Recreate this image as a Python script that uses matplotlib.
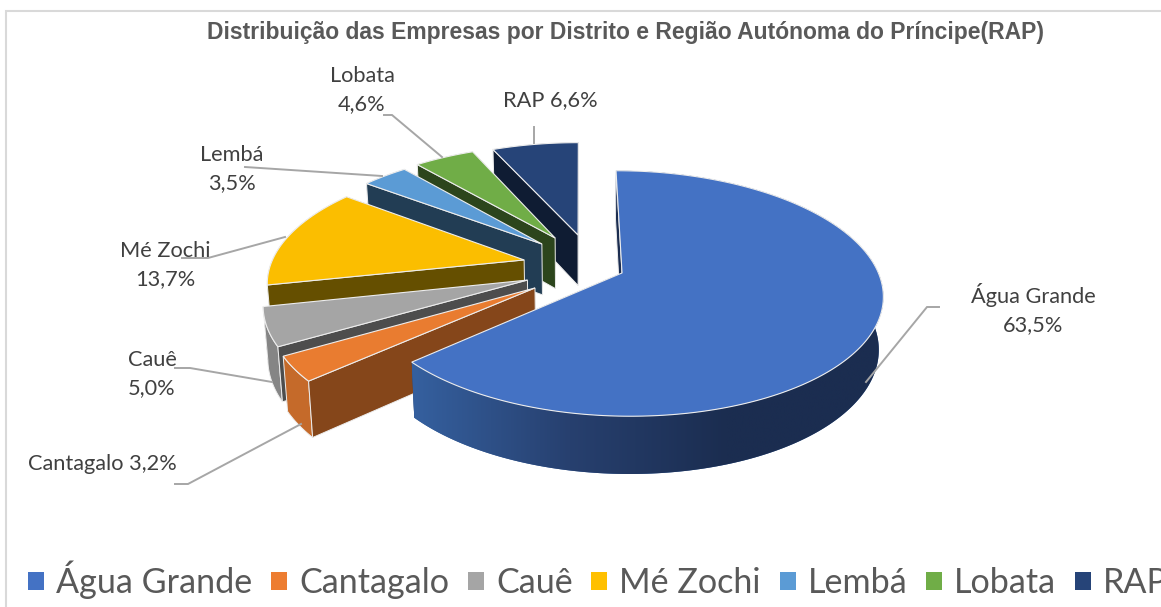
import numpy as np
import matplotlib
matplotlib.use("Agg")
import matplotlib.pyplot as plt
from matplotlib.patches import Patch, Polygon
from matplotlib.colors import LinearSegmentedColormap

# ---------- data ----------
categories = ["Água Grande", "Cantagalo", "Cauê", "Mé Zochi", "Lembá", "Lobata", "RAP"]
values = [63.5, 3.2, 5.0, 13.7, 3.5, 4.6, 6.6]
value_labels = ["63,5%", "3,2%", "5,0%", "13,7%", "3,5%", "4,6%", "6,6%"]
title = "Distribuição das Empresas por Distrito e Região Autónoma do Príncipe(RAP)"

# ---------- style ----------
top_colors = ["#4472C4", "#E97C30", "#A5A5A5", "#FBBE00", "#5B9BD5", "#70AD47", "#264478"]
arc_colors = ["#35609F", "#C56A2A", "#858585", "#7F6000", "#2E4F6C", "#385723", "#132240"]
wall_colors = ["#1B2D50", "#85461A", "#4D4D4D", "#654F00", "#223D54", "#2C451C", "#0F1C33"]
legend_colors = ["#4472C4", "#ED7D31", "#A5A5A5", "#FFC000", "#5B9BD5", "#70AD47", "#264478"]
TEXT = "#595959"
LABEL = "#404040"
LEADER = "#A6A6A6"
FONT = "Lato"

# ---------- layout: projection of the tilted disk, slice explosion in disk units ----------
X0, Y0, BX, AY, K = 580.0, 272.0, 256.0, 119.0, 0.167
SHRINK, STRETCH, DEPTH = 0.985, 1.04, 52.0
explode_x = [0.164, -0.172, -0.203, -0.222, -0.155, -0.102, -0.008]
explode_y = [0.008, 0.131, 0.067, -0.103, -0.245, -0.300, -0.328]

label_text = ["Água Grande\n63,5%", "Cantagalo 3,2%", "Cauê\n5,0%", "Mé Zochi\n13,7%",
              "Lembá\n3,5%", "Lobata\n4,6%", "RAP 6,6%"]
label_xy = [(1033, 309), (102, 464), (152, 374), (165, 265), (232, 169), (362, 90), (550, 100)]
leaders = [
    [(866, 382), (927, 307), (939, 307)],
    [(301, 424), (188, 484), (175, 484)],
    [(272, 382), (190, 368), (175, 368)],
    [(285, 237), (208, 258), (182, 258)],
    [(382, 176), (245, 167)],
    [(442, 157), (392, 115), (384, 115)],
    [(534, 143), (534, 127)],
]


def top_xy(X, Y):
    w = 1 - K * Y
    return X0 + BX * X / w, Y0 + AY * Y / w


def bottom_xy(X, Y):
    x, y = top_xy(X, Y)
    return X0 + (x - X0) * SHRINK, Y0 + (y - Y0) * STRETCH + DEPTH


def quad(fn_a, fn_b):
    return np.vstack([fn_a, fn_b[::-1]])


fig = plt.figure(figsize=(11.61, 6.07), dpi=100, facecolor="white")
ax = fig.add_axes([0, 0, 1, 1])
ax.set_xlim(0, 1161)
ax.set_ylim(607, 0)
ax.axis("off")

# chart frame (left and top edges are visible)
ax.plot([5.5, 5.5, 1161], [607, 11, 11], color="#D9D9D9", lw=1.5, solid_joinstyle="miter")

fractions = np.array(values) / np.sum(values)
edges = np.concatenate([[0], np.cumsum(fractions)]) * 2 * np.pi
wall_cmap = LinearSegmentedColormap.from_list("wall", ["#35609F", "#27406F", "#1B2D50", "#1B2D50"])

# paint from the back slice to the front one; Água Grande last
for i in range(len(values) - 1, -1, -1):
    t = np.linspace(edges[i], edges[i + 1], max(8, int(fractions[i] * 400)))
    ox, oy = explode_x[i], explode_y[i]
    X, Y = ox + np.sin(t), oy - np.cos(t)
    top_arc = np.column_stack(top_xy(X, Y))
    bot_arc = np.column_stack(bottom_xy(X, Y))
    apex_top = np.array(top_xy(ox, oy))
    apex_bot = np.array(bottom_xy(ox, oy))

    # closing radial wall
    ax.add_patch(Polygon(np.array([apex_top, top_arc[-1], bot_arc[-1], apex_bot]),
                         fc=wall_colors[i], ec="none"))
    # outer wall
    outer = Polygon(quad(top_arc, bot_arc), fc=arc_colors[i], ec="#EDEDED" if i else "none", lw=0.7)
    ax.add_patch(outer)
    if i == 0:
        # horizontal shading of the big slice's wall
        xs = np.r_[top_arc[:, 0], bot_arc[:, 0]]
        ys = np.r_[top_arc[:, 1], bot_arc[:, 1]]
        im = ax.imshow(np.linspace(0, 1, 256)[None, :], cmap=wall_cmap, aspect="auto",
                       extent=(xs.min(), xs.max(), ys.max(), ys.min()), interpolation="bilinear",
                       zorder=outer.get_zorder())
        im.set_clip_path(outer)
        ax.set_xlim(0, 1161)
        ax.set_ylim(607, 0)
    # opening radial wall
    ax.add_patch(Polygon(np.array([apex_top, top_arc[0], bot_arc[0], apex_bot]),
                         fc=wall_colors[i], ec="#EDEDED", lw=0.7))
    # top face
    ax.add_patch(Polygon(np.vstack([apex_top, top_arc]), fc=top_colors[i], ec="#EDEDED", lw=0.8))

# leader lines and data labels
for pts in leaders:
    p = np.array(pts)
    ax.plot(p[:, 0], p[:, 1], color=LEADER, lw=1.4, solid_joinstyle="miter")
for txt, (x, y) in zip(label_text, label_xy):
    ax.text(x, y, txt, ha="center", va="center", fontsize=15.7, family=FONT, color=LABEL,
            linespacing=1.55)

ax.text(625.5, 32, title, ha="center", va="center", fontsize=16.5, fontweight="bold",
        family="Liberation Sans", color=TEXT)

handles = [Patch(facecolor=c, edgecolor="none", label=n) for c, n in zip(legend_colors, categories)]
ax.legend(handles=handles, ncol=7, loc="center left", bbox_to_anchor=(28 / 1161, 1 - 580 / 607),
          frameon=False, prop={"family": FONT, "size": 24.6}, labelcolor=TEXT,
          handlelength=0.47, handleheight=0.47, handletextpad=0.35, columnspacing=0.55,
          borderpad=0, borderaxespad=0)

fig.savefig("out.png", dpi=100)
